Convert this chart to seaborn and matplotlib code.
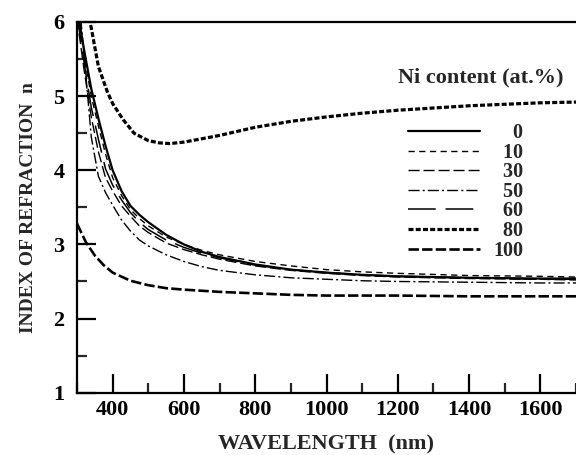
import matplotlib
matplotlib.use("Agg")
import matplotlib.pyplot as plt
import seaborn as sns
import pandas as pd
from matplotlib.ticker import MultipleLocator

# ---- data ----
wavelength = [300, 320, 340, 360, 380, 400, 425, 450, 475, 500, 550, 600, 650,
              700, 800, 900, 1000, 1100, 1200, 1400, 1600, 1700]
n_ni0 = [6.20, 5.62, 5.10, 4.70, 4.33, 4.00, 3.72, 3.52, 3.40, 3.30, 3.13, 3.00, 2.90,
         2.83, 2.73, 2.66, 2.62, 2.59, 2.57, 2.55, 2.54, 2.54]
n_ni10 = [6.20, 5.55, 5.00, 4.60, 4.22, 3.90, 3.66, 3.47, 3.35, 3.25, 3.10, 3.00, 2.92,
          2.86, 2.77, 2.71, 2.66, 2.63, 2.61, 2.58, 2.57, 2.56]
n_ni30 = [6.05, 5.35, 4.72, 4.25, 3.90, 3.72, 3.52, 3.38, 3.25, 3.16, 3.02, 2.93, 2.86,
          2.80, 2.71, 2.65, 2.61, 2.58, 2.56, 2.54, 2.53, 2.52]
n_ni50 = [6.60, 5.55, 4.45, 3.92, 3.70, 3.53, 3.33, 3.18, 3.06, 2.98, 2.86, 2.77, 2.70,
          2.65, 2.59, 2.55, 2.53, 2.51, 2.50, 2.49, 2.48, 2.48]
n_ni60 = [6.10, 5.45, 4.85, 4.42, 4.02, 3.80, 3.60, 3.43, 3.30, 3.20, 3.06, 2.96, 2.88,
          2.82, 2.72, 2.66, 2.62, 2.59, 2.57, 2.55, 2.53, 2.53]

wavelength_80 = [330, 340, 360, 385, 400, 430, 460, 500, 530, 560, 600, 700, 800,
                 900, 1000, 1100, 1200, 1300, 1400, 1500, 1600, 1700]
n_ni80 = [6.15, 5.92, 5.40, 5.06, 4.90, 4.68, 4.50, 4.40, 4.37, 4.36, 4.38, 4.47, 4.58,
          4.66, 4.72, 4.77, 4.81, 4.84, 4.87, 4.89, 4.91, 4.92]

wavelength_100 = [300, 325, 350, 375, 400, 450, 500, 550, 600, 700, 800, 900, 1000,
                  1200, 1400, 1600, 1700]
n_ni100 = [3.28, 3.03, 2.85, 2.72, 2.62, 2.51, 2.45, 2.41, 2.39, 2.36, 2.34, 2.32, 2.31,
           2.31, 2.30, 2.30, 2.30]

labels = ["0", "10", "30", "50", "60", "80", "100"]
x_ticks = [400, 600, 800, 1000, 1200, 1400, 1600]
y_ticks = [1, 2, 3, 4, 5, 6]

series = [
    (wavelength, n_ni0), (wavelength, n_ni10), (wavelength, n_ni30),
    (wavelength, n_ni50), (wavelength, n_ni60), (wavelength_80, n_ni80),
    (wavelength_100, n_ni100),
]

# ---- styles ----
styles = [
    dict(lw=1.6, ls="-"),
    dict(lw=1.0, ls=(0, (4.5, 3.2))),
    dict(lw=1.0, ls=(0, (8, 2.8))),
    dict(lw=1.0, ls=(0, (8, 2.2, 1.5, 2.2))),
    dict(lw=1.1, ls=(0, (20, 7))),
    dict(lw=2.3, ls=(0, (3.6, 1.6))),
    dict(lw=1.9, ls=(0, (7.5, 2.3))),
]

sns.set_style("ticks")
plt.rcParams["font.family"] = ["Liberation Serif", "DejaVu Serif"]
plt.rcParams["font.weight"] = "bold"
plt.rcParams["lines.scale_dashes"] = False

fig = plt.figure(figsize=(5.76, 4.55), dpi=100)
ax = fig.add_axes([77 / 576, 1 - 392.7 / 455, 1 - 77 / 576, (392.7 - 22) / 455])

for (wl, n), lab, st in zip(series, labels, styles):
    df = pd.DataFrame({"wl": wl, "n": n})
    sns.lineplot(data=df, x="wl", y="n", ax=ax, color="black",
                 linewidth=st["lw"], linestyle=st["ls"], label=lab,
                 estimator=None, sort=True)

ax.set_xlim(300, 1700)
ax.set_ylim(1, 6)
ax.xaxis.set_major_locator(MultipleLocator(200))
ax.xaxis.set_minor_locator(MultipleLocator(100))
ax.set_xticks(x_ticks)
ax.set_yticks(y_ticks)
ax.yaxis.set_minor_locator(MultipleLocator(0.5))

for s in ["left", "bottom", "top"]:
    ax.spines[s].set_linewidth(1.6)
    ax.spines[s].set_color("black")
ax.spines["right"].set_visible(False)

ax.tick_params(axis="both", which="major", direction="in", length=13.5, width=1.6,
               labelsize=16, colors="black")
ax.tick_params(axis="both", which="minor", direction="in", length=7, width=1.6)
ax.tick_params(axis="x", which="both", top=False, pad=5)
ax.tick_params(axis="y", which="both", right=False, pad=9)
for t in ax.get_xticklabels() + ax.get_yticklabels():
    t.set_fontweight("bold")

ax.set_xlabel("WAVELENGTH  (nm)", fontsize=16, fontweight="bold", labelpad=11)
ax.set_ylabel("INDEX OF REFRACTION  n", fontsize=14, fontweight="bold", labelpad=12)

# legend
handles, _ = ax.get_legend_handles_labels()
pad_labels = ["    " + l if len(l) == 1 else ("  " + l if len(l) == 2 else l) for l in labels]
leg = ax.legend(handles, pad_labels, loc="upper left", bbox_to_anchor=(0.663, 0.7275),
                frameon=False, borderpad=0, borderaxespad=0, handlelength=3.6,
                handletextpad=0.65, labelspacing=-0.02,
                prop={"family": "Liberation Serif", "weight": "bold", "size": 14.5})
ax.text(0.81, 0.849, "Ni content (at.%)", transform=ax.transAxes, ha="center",
        va="center", fontsize=16, fontweight="bold")

fig.savefig("out.png", dpi=100)
